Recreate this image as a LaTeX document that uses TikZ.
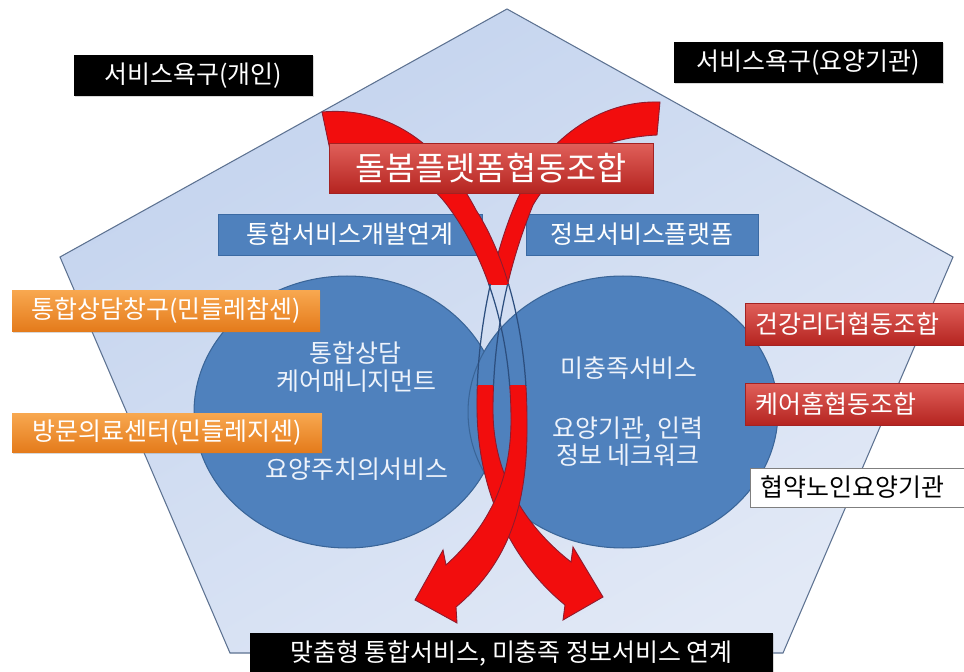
\documentclass[tikz,border=0pt]{standalone}
\usepackage{fontspec}
\setmainfont{Noto Sans CJK KR}
\usepackage{tikz}
\usetikzlibrary{positioning, shapes.geometric, shadows}
\definecolor{PentTop}{HTML}{C3D3EE}
\definecolor{PentBottom}{HTML}{E2E9F6}
\definecolor{PentEdge}{HTML}{5D7291}
\definecolor{CircleBlue}{HTML}{4F81BD}
\definecolor{CircleEdge}{HTML}{3A6598}
\definecolor{CircText}{HTML}{EEF3FB}
\definecolor{BoxBlue}{HTML}{4F81BD}
\definecolor{BoxBlueEdge}{HTML}{3B6AA3}
\definecolor{RedTop}{HTML}{E0605A}
\definecolor{RedBottom}{HTML}{B52420}
\definecolor{RedEdge}{HTML}{A32222}
\definecolor{OrangeTop}{HTML}{F8A850}
\definecolor{OrangeBottom}{HTML}{E47A1A}
\definecolor{RibbonRed}{HTML}{F20D0D}
\definecolor{RibbonEdge}{HTML}{8E1B2E}
\definecolor{GhostLine}{HTML}{2C4E7E}
\definecolor{GreyEdge}{HTML}{7F7F7F}

% ribbon outlines (pixel units, y downwards)
\newcommand{\ribbonleft}{(322,112) .. controls (400,105) and (450,160) .. (476,210)
  .. controls (505,255) and (527,330) .. (527,420)
  .. controls (528,500) and (512,560) .. (456,607) -- (457,623) -- (415,600) -- (443,550) -- (446,565)
  .. controls (490,525) and (511,480) .. (511,420)
  .. controls (511,340) and (490,262) .. (447,205)
  .. controls (420,170) and (380,150) .. (330,150) -- cycle}
\newcommand{\ribbonright}{(660,102) .. controls (590,100) and (540,150) .. (517,200)
  .. controls (495,250) and (476,330) .. (477,410)
  .. controls (478,490) and (510,560) .. (565,605) -- (563,620) -- (603,597) -- (573,547) -- (571,562)
  .. controls (530,530) and (493,480) .. (493,410)
  .. controls (493,330) and (510,262) .. (533,205)
  .. controls (560,160) and (600,138) .. (657,135) -- cycle}

\begin{document}
\begin{tikzpicture}[x=0.02cm, y=-0.02cm,
    every node/.style={font=\fontsize{14.2}{16}\selectfont, inner sep=0pt},
    blkbox/.style={fill=black, text=white, minimum height=0.82cm, drop shadow={opacity=0.3, shadow xshift=0.8pt, shadow yshift=-0.8pt}},
    redbox/.style={top color=RedTop, bottom color=RedBottom, draw=RedEdge, line width=0.4pt, text=white, minimum height=0.84cm, drop shadow={opacity=0.3, shadow xshift=0.8pt, shadow yshift=-0.8pt}},
    orgbox/.style={top color=OrangeTop, bottom color=OrangeBottom, text=white, minimum height=0.84cm, drop shadow={opacity=0.3, shadow xshift=0.8pt, shadow yshift=-0.8pt}},
    bluebox/.style={fill=BoxBlue, draw=BoxBlueEdge, line width=0.4pt, text=white, minimum height=0.82cm},
    sidebox/.style={text width=4.0cm, align=left, inner xsep=0.2cm},
    circ/.style={ellipse, fill=CircleBlue, draw=CircleEdge, line width=0.6pt},
    circtext/.style={text=CircText},
    ribbon/.style={fill=RibbonRed, draw=RibbonEdge, line width=0.5pt},
    ghost/.style={draw=GhostLine, line width=0.7pt}
]
\useasboundingbox (0,0) rectangle (964,672);
\clip (0,0) rectangle (964,672);
\fill[white] (0,0) rectangle (964,672);

% Pentagon
\path[draw=PentEdge, line width=0.6pt, top color=PentTop, bottom color=PentBottom, shading angle=30]
  (507,9) -- (953,257) -- (783,653) -- (230,653) -- (60,257) -- cycle;

% Platform links
\node[bluebox, minimum width=5.28cm] (devlink) at (350,234.5) {통합서비스개발연계};
\node[bluebox, minimum width=4.64cm] (infoplat) at (642,234.5) {정보서비스플랫폼};

% Service circles
\node[circ, minimum width=6.12cm, minimum height=5.44cm] (leftcirc) at (347,412) {};
\node[circ, minimum width=6.2cm, minimum height=5.44cm] (rightcirc) at (623,412) {};

% Ribbons
\begin{scope}
  \clip (0,0) rectangle (964,285) (0,385) rectangle (964,672);
  \path[ribbon] \ribbonright;
  \path[ribbon] \ribbonleft;
\end{scope}
\begin{scope}
  \clip (0,285) rectangle (964,385);
  \path[ghost] \ribbonright;
  \path[ghost] \ribbonleft;
\end{scope}

% Circle texts
\node[circtext] (counsel) at (355.5,353) {통합상담};
\node[circtext] (caremgmt) at (356.5,381) {케어매니지먼트};
\node[circtext] (doctor) at (357,469) {요양주치의서비스};
\node[circtext] (unmet) at (629,368) {미충족서비스};
\node[circtext] (instnet) at (628,430) {요양기관, 인력};
\node[circtext] (infonet) at (628,455) {정보 네크워크};

% Needs and cooperatives
\node[blkbox, minimum width=4.78cm] (needind) at (193.5,75.5) {서비스욕구(개인)};
\node[blkbox, minimum width=5.38cm] (needinst) at (808.5,62.5) {서비스욕구(요양기관)};
\node[redbox, minimum width=6.48cm, minimum height=1.0cm, font=\fontsize{18.6}{21}\selectfont] (platcoop) at (491,168) {돌봄플렛폼협동조합};
\node[orgbox, minimum width=6.16cm] (window) at (166,311) {통합상담창구(민들레참센)};
\node[orgbox, minimum width=6.2cm, minimum height=0.8cm] (visitcare) at (167,433) {방문의료센터(민들레지센)};
\node[redbox, sidebox, anchor=west] (healthcoop) at (745,324) {건강리더협동조합};
\node[redbox, sidebox, anchor=west] (homecoop) at (745,404) {케어홈협동조합};
\node[sidebox, fill=white, draw=GreyEdge, text=black, minimum height=0.78cm, anchor=west] (nursing) at (750,487.5) {협약노인요양기관};
\node[blkbox, minimum width=10.46cm] (outcome) at (511.5,653.5) {맞춤형 통합서비스, 미충족 정보서비스 연계};

\end{tikzpicture}
\end{document}
